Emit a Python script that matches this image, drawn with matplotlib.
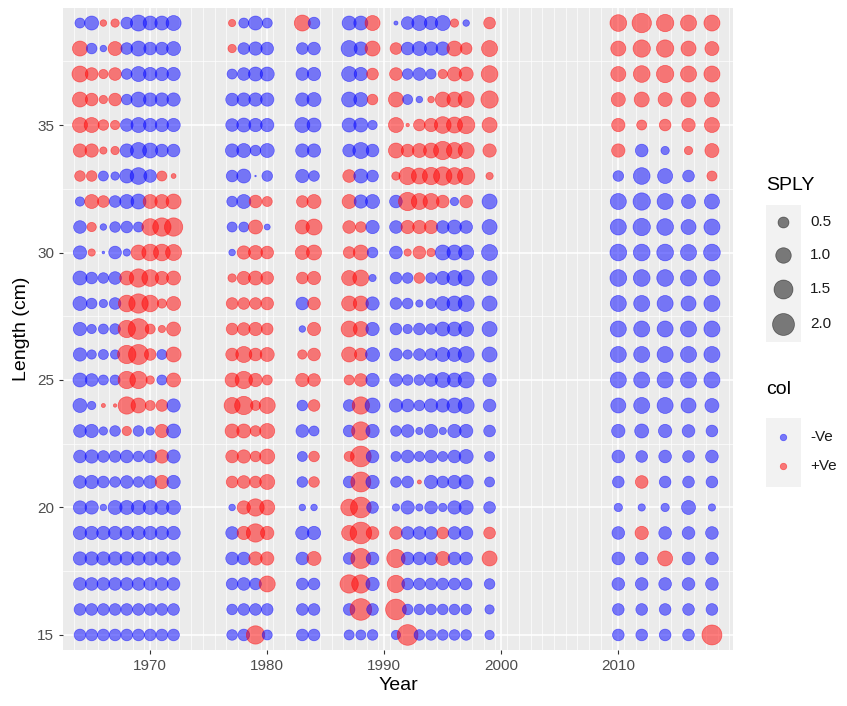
import numpy as np
import matplotlib.pyplot as plt

plt.rcParams['font.family'] = ['Liberation Sans', 'DejaVu Sans']

# lengths 15..39 cm, one value per length for each year
# SPLY sign -> colour (negative = -Ve blue, positive = +Ve red), magnitude -> size
lengths = np.arange(15, 40)
years = [1964, 1965, 1966, 1967, 1968, 1969, 1970, 1971, 1972,
         1977, 1978, 1979, 1980, 1983, 1984, 1987, 1988, 1989,
         1991, 1992, 1993, 1994, 1995, 1996, 1997, 1999,
         2010, 2012, 2014, 2016, 2018]

sply_1964 = [-0.57, -0.57, -0.67, -0.74, -0.74, -0.74, -0.67, -0.67, -0.67, -0.82, -0.82, -0.74, -0.74,
             -0.82, -0.82, -0.74, -0.67, -0.36, 0.47, 0.74, 0.94, 0.94, 1.07, 0.94, -0.42]
sply_1965 = [-0.57, -0.57, -0.67, -0.74, -0.74, -0.74, -0.74, -0.74, -0.74, -0.29, -0.67, -0.36, -0.36,
             -0.47, -0.57, 0.22, 0.36, 0.82, 0.47, 0.74, 0.94, 0.67, 0.67, -0.47, -0.82]
sply_1966 = [-0.57, -0.57, -0.67, -0.74, -0.74, -0.18, -0.57, -0.57, -0.29, 0.07, -0.42, -0.42, -0.42,
             -0.29, -0.47, -0.03, -0.18, 0.57, -0.42, 0.22, 0.47, 0.29, 0.36, -0.18, 0.18]
sply_1967 = [-0.57, -0.57, -0.67, -0.74, -0.74, -0.82, -0.47, -0.57, -0.47, 0.05, -0.42, -0.36, -0.47,
             -0.57, -0.67, -0.67, -0.47, -0.57, -0.29, 0.29, 0.36, 0.67, 0.67, 0.82, 0.29]
sply_1968 = [-0.57, -0.57, -0.67, -0.74, -0.74, -0.82, -0.67, -0.67, 0.36, 1.25, 1.25, 1.40, 1.25,
             1.16, 0.82, -0.22, -0.57, -0.82, -0.82, -0.74, -0.67, -0.47, -0.47, -0.57, -0.57]
sply_1969 = [-0.57, -0.57, -0.67, -0.74, -0.74, -0.82, -0.47, -0.47, -0.47, 0.94, 1.25, 1.66, 1.78,
             1.56, 1.40, 0.94, -0.42, -0.94, -1.16, -1.07, -0.94, -0.94, -0.94, -0.94, -1.07]
sply_1970 = [-0.57, -0.57, -0.67, -0.74, -0.74, -0.82, -0.67, -0.67, -0.29, 0.42, 0.29, 0.57, 0.42,
             1.16, 1.16, 1.16, 1.16, 0.82, -0.67, -0.94, -0.74, -0.74, -0.74, -0.67, -0.82]
sply_1971 = [-0.57, -0.57, -0.67, -0.74, -0.74, -0.82, 0.74, 0.74, 0.74, 0.57, -0.42, -0.42, 0.22,
             0.36, 0.74, 1.16, 1.40, 0.82, 0.42, -0.67, -0.74, -0.74, -0.74, -0.67, -0.82]
sply_1972 = [-0.57, -0.57, -0.67, -0.74, -0.74, -0.82, -0.74, -0.74, -0.82, -0.74, 0.82, 0.94, 0.82,
             0.82, 0.82, 1.07, 1.40, 0.94, 0.10, -0.67, -0.74, -0.74, -0.74, -0.82, -0.94]
sply_1977 = [-0.47, -0.47, -0.57, -0.67, -0.67, -0.18, 0.57, 0.67, 0.82, 1.07, 0.82, 0.67, 0.57,
             0.57, 0.29, -0.18, -0.42, -0.47, -0.57, -0.74, -0.67, -0.67, -0.42, 0.29, 0.22]
sply_1978 = [-0.57, -0.57, -0.67, -0.67, 0.74, 0.74, 0.67, 0.74, 0.82, 1.40, 1.25, 1.07, 0.67,
             0.57, 0.74, 0.74, -0.42, -0.82, -0.82, -0.82, -0.82, -0.74, -0.67, -0.57, -0.42]
sply_1979 = [1.40, -0.57, -0.57, 0.74, 1.40, 1.25, 0.57, 0.47, 0.47, 0.42, 0.74, 0.67, 0.74,
             0.57, 0.82, 0.82, 0.82, 0.67, -0.01, -0.47, -0.74, -0.74, -0.82, -0.74, -0.82]
sply_1980 = [-0.42, -0.57, 1.07, 0.74, 0.74, 0.94, 0.94, 0.94, 0.94, 1.07, 0.42, 0.82, 0.57,
             0.67, 0.67, 0.67, -0.15, 0.42, -0.47, -0.82, -0.74, -0.74, -0.82, -0.67, -0.42]
sply_1983 = [-0.57, -0.57, -0.57, -0.67, -0.74, -0.18, -0.47, -0.42, -0.67, -0.47, 0.74, 0.36, -0.18,
             -0.67, 0.57, 0.82, 0.82, 0.57, -0.74, -0.74, -0.94, -0.74, -0.67, -0.57, 1.07]
sply_1984 = [-0.57, -0.57, -0.57, 0.82, -0.74, -0.18, 0.47, 0.47, -0.42, 0.57, 0.67, 0.67, 0.74,
             0.67, 0.74, 0.94, 1.07, 0.82, -0.47, -0.74, -0.82, -0.82, -0.74, -0.67, -0.57]
sply_1987 = [-0.42, -0.57, 1.40, -0.57, 0.94, 1.16, -0.57, 0.42, -0.57, -0.57, 0.42, 0.94, 1.07,
             0.94, 0.94, 0.57, 0.67, 0.82, 0.67, -0.67, -0.82, -0.94, -0.94, -1.07, -0.82]
sply_1988 = [-0.42, 1.95, 1.40, 1.66, 1.95, 1.78, 1.66, 1.78, 1.40, 1.25, 0.67, 0.67, 0.94,
             0.94, 1.07, 0.94, 0.47, -0.74, -0.82, -1.07, -0.82, -0.82, -0.74, -0.74, -0.82]
sply_1989 = [-0.47, -0.57, -0.74, -0.67, 0.67, -0.57, -0.74, -0.67, -0.74, -0.94, -0.74, -0.82, -0.74,
             -0.74, -0.22, -0.47, -0.74, -0.82, -0.57, -0.67, -0.36, 0.47, 0.57, 0.94, 0.94]
sply_1991 = [-0.36, 1.78, 1.25, 1.40, 0.67, -0.22, -0.47, -0.42, -0.47, -0.74, -0.67, -0.67, -0.57,
             -0.57, -0.57, -0.67, -0.67, -0.67, 0.29, 0.94, 0.94, 0.94, 0.67, 0.57, -0.07]
sply_1992 = [1.78, -0.47, -0.57, -0.67, -0.67, -0.74, -0.57, -0.67, -0.67, -0.67, -0.47, -0.36, -0.36,
             -0.47, -0.47, 0.22, 0.74, 1.40, 1.25, 0.67, 0.05, -0.42, -0.47, -0.67, -0.67]
sply_1993 = [-0.47, -0.47, -0.57, -0.67, -0.67, -0.22, 0.07, -0.42, -0.22, -0.47, -0.47, -0.57, -0.57,
             -0.22, 0.47, 0.67, 0.74, 1.07, 1.07, 0.82, 0.57, -0.18, -0.67, -0.82, -0.94]
sply_1994 = [-0.47, -0.47, -0.57, -0.67, -0.67, -0.67, -0.74, -0.67, -0.74, -0.74, -0.67, -0.57, -0.47,
             -0.42, -0.47, 0.29, 0.74, 1.07, 1.25, 0.94, 0.74, 0.18, -0.42, -0.74, -0.74]
sply_1995 = [-0.47, -0.47, -0.57, 0.82, 0.57, -0.29, -0.57, -0.42, -0.22, -0.74, -0.94, -0.82, -0.82,
             -0.82, -0.74, -0.94, -0.67, 0.67, 1.40, 1.40, 1.16, 0.94, 0.36, -0.74, -0.94]
sply_1996 = [-0.47, -0.47, -0.57, -0.67, -0.67, -0.74, -0.74, -0.67, -0.74, -0.94, -0.82, -0.82, -0.82,
             -0.94, -0.94, -0.94, -0.82, -0.29, 1.16, 1.07, 1.07, 0.94, 0.82, 0.94, 0.29]
sply_1997 = [-0.47, -0.47, -0.57, -0.67, -0.74, -0.82, -0.82, -0.82, -0.74, -1.07, -1.07, -1.07, -0.94,
             -1.07, -1.07, -0.94, -0.67, 0.67, 1.25, 1.07, 1.25, 1.07, 0.82, 0.57, -0.18]
sply_1999 = [-0.36, -0.36, -0.47, 0.94, 0.57, -0.57, -0.42, -0.42, -0.57, -0.67, -0.74, -0.94, -0.94,
             -0.94, -0.94, -1.07, -0.94, -0.94, 0.22, 0.74, 0.94, 1.25, 1.16, 1.07, 0.57]
sply_2010 = [-0.57, -0.57, -0.67, -0.67, -0.67, -0.29, -0.57, -0.67, -0.74, -0.94, -1.07, -1.07, -1.07,
             -1.07, -1.16, -1.16, -1.07, -1.07, -0.47, 0.74, 0.74, 0.82, 0.94, 0.94, 1.16]
sply_2012 = [-0.57, -0.57, -0.67, -0.67, 0.74, -0.22, 0.67, -0.57, -0.82, -1.07, -1.07, -1.07, -1.07,
             -1.07, -1.16, -1.16, -1.25, -1.25, -1.16, -0.67, 0.42, 0.94, 1.16, 1.25, 1.56]
sply_2014 = [-0.57, -0.57, -0.67, 0.94, -0.67, -0.29, -0.57, -0.67, -0.74, -1.07, -1.07, -1.07, -1.07,
             -1.07, -1.16, -1.16, -1.16, -1.07, -0.94, -0.29, 0.57, 0.82, 1.25, 1.25, 1.25]
sply_2016 = [-0.57, -0.57, -0.67, -0.67, -0.67, -0.82, -0.57, -0.57, -0.67, -0.94, -1.07, -1.07, -1.07,
             -0.94, -1.07, -1.07, -0.94, -0.82, -0.57, 0.29, 0.74, 0.94, 1.07, 0.94, 1.07]
sply_2018 = [1.66, -0.57, -0.67, -0.67, -0.67, -0.22, -0.57, -0.67, -0.57, -0.82, -1.07, -1.07, -1.07,
             -1.07, -1.07, -1.16, -1.07, -0.94, 0.42, 0.82, 0.94, 0.94, 1.07, 0.82, 1.07]

sply = [sply_1964, sply_1965, sply_1966, sply_1967, sply_1968, sply_1969, sply_1970, sply_1971, sply_1972,
        sply_1977, sply_1978, sply_1979, sply_1980, sply_1983, sply_1984, sply_1987, sply_1988, sply_1989,
        sply_1991, sply_1992, sply_1993, sply_1994, sply_1995, sply_1996, sply_1997, sply_1999,
        sply_2010, sply_2012, sply_2014, sply_2016, sply_2018]

size_breaks = [0.5, 1.0, 1.5, 2.0]
col_labels = ['-Ve', '+Ve']
col_colors = ['#0000FF', '#FF0000']

SCALE = 124.5  # marker area (pt^2) per unit of SPLY
ALPHA = 0.5

W, H = 847, 706
fig = plt.figure(figsize=(W / 100, H / 100), dpi=100)
ax = fig.add_axes([63 / W, 1 - 650 / H, (733 - 63) / W, (650 - 8) / H])
ax.set_facecolor('#EBEBEB')

# grid like ggplot
for yr in np.arange(1962.5, 2020, 1.0):
    ax.axvline(yr, color='white', lw=0.5, zorder=0)
for yr in [1970, 1980, 1990, 2000, 2010]:
    ax.axvline(yr, color='white', lw=1.1, zorder=0)
for ln in [17.5, 22.5, 27.5, 32.5, 37.5]:
    ax.axhline(ln, color='white', lw=0.5, zorder=0)
for ln in [15, 20, 25, 30, 35]:
    ax.axhline(ln, color='white', lw=1.1, zorder=0)

for yr, vals in zip(years, sply):
    vals = np.array(vals)
    cols = np.where(vals < 0, col_colors[0], col_colors[1])
    ax.scatter(np.full(len(lengths), yr), lengths, s=SCALE * np.abs(vals), c=cols,
               alpha=ALPHA, edgecolors=cols, linewidths=0.5, zorder=2)

ax.set_xlim(1962.55, 2019.8)
ax.set_ylim(14.41, 39.59)
ax.set_xticks([1970, 1980, 1990, 2000, 2010])
ax.set_yticks([15, 20, 25, 30, 35])
ax.tick_params(colors='#333333', labelcolor='#4D4D4D', labelsize=11, length=3, width=0.8)
for s in ax.spines.values():
    s.set_visible(False)
ax.set_xlabel('Year', fontsize=14, labelpad=3)
ax.set_ylabel('Length (cm)', fontsize=14, labelpad=5)

# legends drawn in pixel space
lax = fig.add_axes([0, 0, 1, 1], zorder=5)
lax.set_xlim(0, W)
lax.set_ylim(H, 0)
lax.axis('off')

lax.text(766, 186, 'SPLY', fontsize=14, va='center', ha='left')
lax.add_patch(plt.Rectangle((766, 205), 35, 137, color='#F2F2F2', lw=0))
for yy, b in zip([222, 255, 289, 324], size_breaks):
    lax.scatter(783, yy, s=SCALE * b, color='black', alpha=ALPHA, edgecolors='black', linewidths=0.5)
    lax.text(810, yy, f'{b:.1f}', fontsize=11, va='center', ha='left', color='#1A1A1A')

lax.text(766, 390, 'col', fontsize=14, va='center', ha='left')
lax.add_patch(plt.Rectangle((766, 418), 35, 69, color='#F2F2F2', lw=0))
for yy, lab, c in zip([437, 466], col_labels, col_colors):
    lax.scatter(783, yy, s=22, color=c, alpha=ALPHA, edgecolors=c, linewidths=0.5)
    lax.text(810, yy, lab, fontsize=11, va='center', ha='left', color='#1A1A1A')

fig.savefig('out.png', dpi=100, facecolor='white')
